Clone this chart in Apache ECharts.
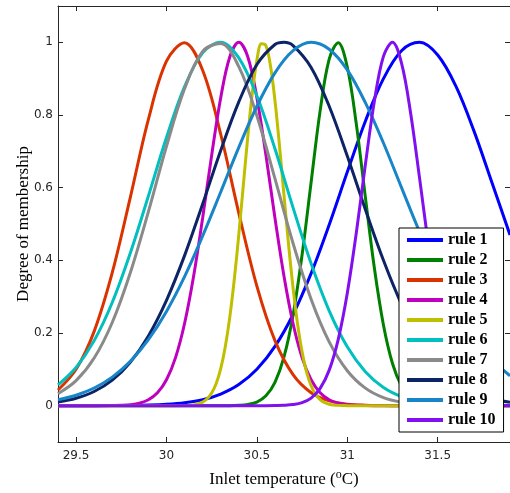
<!DOCTYPE html>
<html>
<head>
<meta charset="utf-8">
<script src="https://cdn.jsdelivr.net/npm/echarts@6/dist/echarts.min.js"></script>
<style>
html,body{margin:0;padding:0;background:#fff;}
#c{width:510px;height:493px;}
</style>
</head>
<body>
<div id="c"></div>
<script>
// Tick labels
const xTicks = [29.5, 30, 30.5, 31, 31.5];
const yTicks = [0, 0.2, 0.4, 0.6, 0.8, 1];

// Sample positions (degC)
const xCoarse = [29.4, 29.5, 29.6, 29.7, 29.8, 29.9, 30.0, 30.1, 30.2, 30.3, 30.4, 30.5, 30.6,
                 30.7, 30.8, 30.9, 31.0, 31.1, 31.2, 31.3, 31.4, 31.5, 31.6, 31.7, 31.8, 31.9];
const xFine = [29.4, 29.45, 29.5, 29.55, 29.6, 29.65, 29.7, 29.75, 29.8, 29.85,
               29.9, 29.95, 30.0, 30.05, 30.1, 30.15, 30.2, 30.25, 30.3, 30.35,
               30.4, 30.45, 30.5, 30.55, 30.6, 30.65, 30.7, 30.75, 30.8, 30.85,
               30.9, 30.95, 31.0, 31.05, 31.1, 31.15, 31.2, 31.25, 31.3, 31.35,
               31.4, 31.45, 31.5, 31.55, 31.6, 31.65, 31.7, 31.75, 31.8, 31.85,
               31.9];
const xRule5 = [29.4, 29.7, 30.0, 30.1, 30.125, 30.15, 30.175, 30.2, 30.225, 30.25, 30.275,
                30.3, 30.325, 30.35, 30.375, 30.4, 30.425, 30.45, 30.475, 30.5, 30.525,
                30.55, 30.575, 30.6, 30.625, 30.65, 30.675, 30.7, 30.725, 30.75, 30.775,
                30.8, 30.825, 30.85, 30.875, 30.9, 30.925, 30.95, 30.975, 31.0, 31.3, 31.6, 31.9];
const xRule8 = [29.4, 29.5, 29.6, 29.7, 29.8, 29.9, 30.0, 30.1, 30.2, 30.3, 30.4, 30.5, 30.6, 30.65,
                30.7, 30.8, 30.9, 31.0, 31.1, 31.2, 31.3, 31.4, 31.5, 31.6, 31.7, 31.8, 31.9];

// Membership values
const rule1 = [0, 0, 0.0001, 0.0003, 0.0007, 0.0016, 0.0037, 0.008, 0.0164, 0.032, 0.058, 0.100, 0.163,
               0.251, 0.364, 0.498, 0.643, 0.783, 0.900, 0.977, 1.000, 0.965, 0.880, 0.757, 0.614, 0.470];
const rule2 = [0,0,0,0,0,0,0,0,0,0, 0,0,0,0,0,0,0,0,0,0,
               0.001,0.0035,0.010,0.027,0.064,0.134,0.249,0.415,0.615,0.812,
               0.954,0.999,0.932,0.775,0.574,0.378,0.222,0.116,0.054,0.0225,
               0.0083,0.0027,0.0008,0,0,0,0,0,0,0, 0];
const rule3 = [0.043, 0.100, 0.2045, 0.366, 0.5735, 0.788, 0.948, 0.999, 0.923, 0.747, 0.530, 0.329, 0.179,
               0.0854, 0.0357, 0.0131, 0.0042, 0.0012, 0.0003, 0, 0, 0, 0, 0, 0, 0];
const rule4 = [0,0,0,0,0,0,0.0003,0.0009,0.0026,0.0068,
               0.0161,0.0353,0.0712,0.1322,0.2262,0.3562,0.5166,0.6896,0.8477,0.9596,
               1,0.9596,0.8477,0.6896,0.5166,0.3562,0.2262,0.1322,0.0712,0.0353,
               0.0161,0.0068,0.0026,0.0009,0.0003,0,0,0,0,0,
               0,0,0,0,0,0,0,0,0,0, 0];
const rule5 = [0, 0, 0, 0.0004, 0.001, 0.0022, 0.0047, 0.0097, 0.0189, 0.0349, 0.0612,
               0.102, 0.1617, 0.2431, 0.3472, 0.471, 0.6065, 0.7419, 0.8618, 0.9506, 0.9959,
               0.9907, 0.936, 0.8398, 0.7155, 0.579, 0.4449, 0.3247, 0.225, 0.148, 0.0926,
               0.0549, 0.031, 0.0166, 0.0084, 0.0041, 0.0019, 0.0008, 0.0003, 0, 0, 0, 0];
const rule6 = [0.0572, 0.105, 0.179, 0.284, 0.420, 0.577, 0.738, 0.878, 0.971, 1.0, 0.957, 0.853, 0.707,
               0.545, 0.391, 0.261, 0.162, 0.0935, 0.0502, 0.0251, 0.0117, 0.005, 0.002, 0.0008, 0.0003, 0.0001];
const rule7 = [0.033, 0.0688, 0.131, 0.229, 0.366, 0.534, 0.714, 0.872, 0.975, 0.997, 0.933, 0.798, 0.625,
               0.447, 0.293, 0.1755, 0.0961, 0.0482, 0.0221, 0.0093, 0.0036, 0.0012, 0.0004, 0, 0, 0];
const rule8 = [0.0099, 0.0203, 0.0389, 0.0702, 0.1196, 0.192, 0.290, 0.413, 0.555, 0.702, 0.836, 0.939, 0.994, 1.0,
               0.991, 0.931, 0.824, 0.687, 0.540, 0.400, 0.279, 0.1835, 0.1137, 0.0664, 0.0365, 0.0189, 0.0092];
const rule9 = [0.0164, 0.0288, 0.0486, 0.0786, 0.122, 0.1817, 0.2594, 0.355, 0.467, 0.588, 0.711, 0.824, 0.916,
               0.977, 1.0, 0.981, 0.924, 0.834, 0.723, 0.600, 0.478, 0.366, 0.268, 0.1886, 0.127, 0.0823];
const rule10 = [0,0,0,0,0,0,0,0,0,0, 0,0,0,0,0,0,0,0,0,0,
                0,0,0,0,0.0003,0.001,0.003,0.0083,0.0209,0.0475,
                0.0978,0.1827,0.3096,0.4759,0.6633,0.8384,0.9612,1.0,0.9426,0.8063,
                0.6255,0.4401,0.2808,0.1625,0.0853,0.0406,0.0175,0.0069,0.0024,0.0008,
                0.0002];

const names = ['rule 1','rule 2','rule 3','rule 4','rule 5','rule 6','rule 7','rule 8','rule 9','rule 10'];
const colors = ['#0000ff','#008000','#da3300','#bf00bf','#bfbf00','#00bfbf','#8a8a8a','#0c2466','#1885c8','#8010f0'];
const ruleValues = [rule1, rule2, rule3, rule4, rule5, rule6, rule7, rule8, rule9, rule10];
const ruleX = [xCoarse, xFine, xCoarse, xFine, xRule5, xCoarse, xCoarse, xRule8, xCoarse, xFine];

const axisColor = '#262626';
const tickFont = {fontFamily: 'DejaVu Sans', fontSize: 12, color: axisColor};

const series = names.map((n, k) => ({
  name: n,
  type: 'line',
  data: ruleX[k].map((x, i) => [x, ruleValues[k][i]]),
  showSymbol: false,
  smooth: 0.35,
  color: colors[k],
  itemStyle: {color: colors[k]},
  lineStyle: {color: colors[k], width: 3},
  xAxisIndex: 0,
  yAxisIndex: 0,
  z: 2
}));

const chart = echarts.init(document.getElementById('c'), null, {renderer: 'canvas'});
chart.setOption({
  animation: false,
  backgroundColor: '#fff',
  grid: {left: 58, top: 6, width: 452.5, height: 436, containLabel: false},
  xAxis: [{
    type: 'value', min: 29.4, max: 31.9, position: 'bottom',
    axisLine: {show: true, onZero: false, lineStyle: {color: axisColor, width: 1}},
    axisTick: {show: true, inside: true, length: 5, customValues: xTicks, lineStyle: {color: axisColor}},
    axisLabel: Object.assign({show: true, margin: 8, customValues: xTicks}, tickFont),
    splitLine: {show: false},
    name: 'Inlet temperature ({sup|o}C)',
    nameLocation: 'middle',
    nameGap: 27,
    nameMoveOverlap: false,
    nameTextStyle: {fontFamily: 'Liberation Serif', fontSize: 17, color: '#000',
      rich: {sup: {fontFamily: 'Liberation Serif', fontSize: 12, color: '#000', verticalAlign: 'top', padding: [0, 0, 9, 0]}}}
  }, {
    type: 'value', min: 29.4, max: 31.9, position: 'top',
    axisLine: {show: true, onZero: false, lineStyle: {color: axisColor, width: 1}},
    axisTick: {show: true, inside: true, length: 5, customValues: xTicks, lineStyle: {color: axisColor}},
    axisLabel: {show: false},
    splitLine: {show: false}
  }],
  yAxis: [{
    type: 'value', min: -0.1, max: 1.1, position: 'left',
    axisLine: {show: true, onZero: false, lineStyle: {color: axisColor, width: 1}},
    axisTick: {show: true, inside: true, length: 5, customValues: yTicks, lineStyle: {color: axisColor}},
    axisLabel: Object.assign({show: true, margin: 5, customValues: yTicks}, tickFont),
    splitLine: {show: false},
    name: 'Degree of membership',
    nameLocation: 'middle',
    nameRotate: 90,
    nameGap: 26,
    nameMoveOverlap: false,
    nameTextStyle: {fontFamily: 'Liberation Serif', fontSize: 17, color: '#000'}
  }, {
    type: 'value', min: -0.1, max: 1.1, position: 'right',
    axisLine: {show: true, onZero: false, lineStyle: {color: axisColor, width: 1}},
    axisTick: {show: true, inside: true, length: 5, customValues: yTicks, lineStyle: {color: axisColor}},
    axisLabel: {show: false},
    splitLine: {show: false}
  }],
  legend: {
    data: names,
    orient: 'vertical',
    left: 399,
    top: 228,
    z: 20,
    icon: 'rect',
    itemWidth: 36,
    itemHeight: 4,
    itemGap: 4,
    padding: [4, 8, 4, 8],
    backgroundColor: '#fff',
    borderColor: '#000',
    borderWidth: 1,
    borderRadius: 0,
    selectedMode: false,
    textStyle: {fontFamily: 'Liberation Serif', fontWeight: 'bold', fontSize: 16, color: '#000', lineHeight: 16}
  },
  series: series
});
</script>
</body>
</html>
